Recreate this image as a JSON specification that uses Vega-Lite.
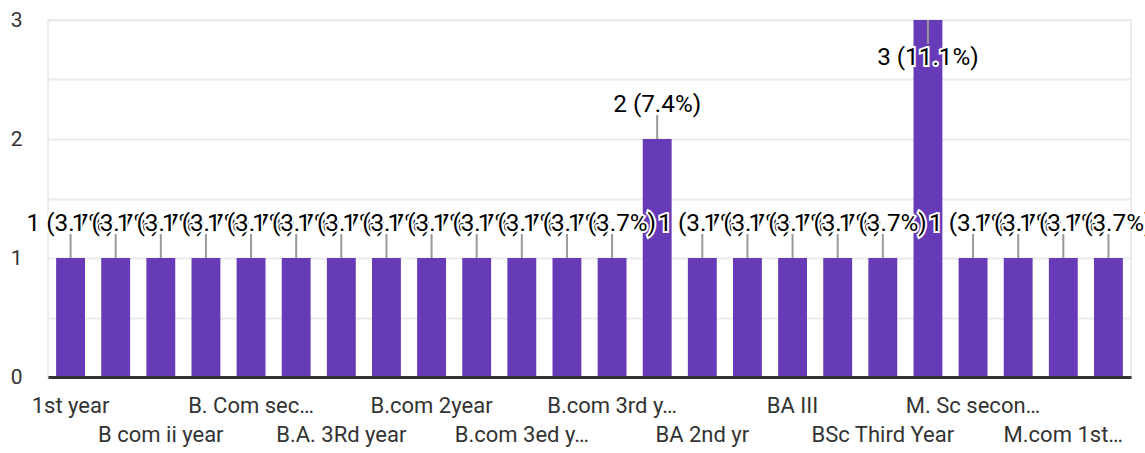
{
  "$schema": "https://vega.github.io/schema/vega-lite/v6.json",
  "width": 1083,
  "height": 357,
  "autosize": {"type": "none"},
  "padding": {"left": 48, "top": 20, "right": 14, "bottom": 76},
  "background": "white",
  "config": {
    "view": {"stroke": "#ebebeb", "strokeWidth": 2},
    "font": "Roboto",
    "style": {
      "halo": {"font": "Roboto", "fontSize": 24.3, "baseline": "alphabetic", "dy": -27, "stroke": "white", "strokeWidth": 4, "fill": "white"},
      "lbl": {"font": "Roboto", "fontSize": 24.3, "baseline": "alphabetic", "dy": -27, "fill": "#222222"}
    }
  },
  "data": {
    "values": [
      {"course": "1st year", "count": 1, "label": "1 (3.7%)"},
      {"course": "2nd year", "count": 1, "label": "1 (3.7%)"},
      {"course": "B com ii year", "count": 1, "label": "1 (3.7%)"},
      {"course": "B. Com 2nd year", "count": 1, "label": "1 (3.7%)"},
      {"course": "B. Com sec…", "count": 1, "label": "1 (3.7%)"},
      {"course": "B.A 2nd year", "count": 1, "label": "1 (3.7%)"},
      {"course": "B.A. 3Rd year", "count": 1, "label": "1 (3.7%)"},
      {"course": "B.com 1st year", "count": 1, "label": "1 (3.7%)"},
      {"course": "B.com 2year", "count": 1, "label": "1 (3.7%)"},
      {"course": "B.com 3 year", "count": 1, "label": "1 (3.7%)"},
      {"course": "B.com 3ed y…", "count": 1, "label": "1 (3.7%)"},
      {"course": "B.com 3rd Year", "count": 1, "label": "1 (3.7%)"},
      {"course": "B.com 3rd y…", "count": 1, "label": "1 (3.7%)"},
      {"course": "B.com final year", "count": 2, "label": "2 (7.4%)"},
      {"course": "BA 2nd yr", "count": 1, "label": "1 (3.7%)"},
      {"course": "BA 3rd year", "count": 1, "label": "1 (3.7%)"},
      {"course": "BA III", "count": 1, "label": "1 (3.7%)"},
      {"course": "BSc 2nd year", "count": 1, "label": "1 (3.7%)"},
      {"course": "BSc Third Year", "count": 1, "label": "1 (3.7%)"},
      {"course": "Final year", "count": 3, "label": "3 (11.1%)"},
      {"course": "M. Sc secon…", "count": 1, "label": "1 (3.7%)"},
      {"course": "M.A. final year", "count": 1, "label": "1 (3.7%)"},
      {"course": "M.com 1st…", "count": 1, "label": "1 (3.7%)"},
      {"course": "Second year", "count": 1, "label": "1 (3.7%)"}
    ]
  },
  "encoding": {
    "x": {
      "field": "course",
      "type": "nominal",
      "sort": null,
      "scale": {"paddingInner": 0.36, "paddingOuter": 0.18},
      "axis": {
        "title": null,
        "labelAngle": 0,
        "ticks": false,
        "grid": false,
        "domainColor": "#333333",
        "domainWidth": 3,
        "zindex": 1,
        "labelFont": "Roboto",
        "labelFontSize": 22,
        "labelColor": "#333333",
        "labelPadding": 18,
        "labelLimit": 400,
        "labelOverlap": false,
        "labelLineHeight": 29.5,
        "labelExpr": "indexof(['1st year','B. Com sec…','B.com 2year','B.com 3rd y…','BA III','M. Sc secon…'], datum.value) >= 0 ? datum.label : (indexof(['B com ii year','B.A. 3Rd year','B.com 3ed y…','BA 2nd yr','BSc Third Year','M.com 1st…'], datum.value) >= 0 ? ['', datum.label] : '')"
      }
    },
    "y": {
      "field": "count",
      "type": "quantitative",
      "scale": {"domain": [0, 3], "nice": false},
      "axis": {
        "title": null,
        "values": [0, 0.5, 1, 1.5, 2, 2.5, 3],
        "labelExpr": "datum.value % 1 == 0 ? format(datum.value, 'd') : ''",
        "grid": true,
        "gridColor": "#ebebeb",
        "gridWidth": 2,
        "domain": false,
        "ticks": false,
        "labelFont": "Roboto",
        "labelFontSize": 21,
        "labelColor": "#333333",
        "labelPadding": 26
      }
    }
  },
  "layer": [
    {"mark": {"type": "bar", "color": "#673ab7"}},
    {
      "transform": [{"filter": "datum.count < 3"}],
      "mark": {"type": "rule", "color": "#999999", "strokeWidth": 2, "y2Offset": -24},
      "encoding": {"y2": {"field": "count"}}
    },
    {
      "transform": [{"filter": "datum.count >= 3"}],
      "mark": {"type": "rule", "color": "#999999", "strokeWidth": 2, "y2Offset": 24},
      "encoding": {"y2": {"field": "count"}}
    },
    {"transform": [{"filter": {"field": "course", "equal": "1st year"}}], "encoding": {"text": {"field": "label"}}, "layer": [{"mark": {"type": "text", "style": "halo"}}, {"mark": {"type": "text", "style": "lbl"}}]},
    {"transform": [{"filter": {"field": "course", "equal": "2nd year"}}], "encoding": {"text": {"field": "label"}}, "layer": [{"mark": {"type": "text", "style": "halo"}}, {"mark": {"type": "text", "style": "lbl"}}]},
    {"transform": [{"filter": {"field": "course", "equal": "B com ii year"}}], "encoding": {"text": {"field": "label"}}, "layer": [{"mark": {"type": "text", "style": "halo"}}, {"mark": {"type": "text", "style": "lbl"}}]},
    {"transform": [{"filter": {"field": "course", "equal": "B. Com 2nd year"}}], "encoding": {"text": {"field": "label"}}, "layer": [{"mark": {"type": "text", "style": "halo"}}, {"mark": {"type": "text", "style": "lbl"}}]},
    {"transform": [{"filter": {"field": "course", "equal": "B. Com sec…"}}], "encoding": {"text": {"field": "label"}}, "layer": [{"mark": {"type": "text", "style": "halo"}}, {"mark": {"type": "text", "style": "lbl"}}]},
    {"transform": [{"filter": {"field": "course", "equal": "B.A 2nd year"}}], "encoding": {"text": {"field": "label"}}, "layer": [{"mark": {"type": "text", "style": "halo"}}, {"mark": {"type": "text", "style": "lbl"}}]},
    {"transform": [{"filter": {"field": "course", "equal": "B.A. 3Rd year"}}], "encoding": {"text": {"field": "label"}}, "layer": [{"mark": {"type": "text", "style": "halo"}}, {"mark": {"type": "text", "style": "lbl"}}]},
    {"transform": [{"filter": {"field": "course", "equal": "B.com 1st year"}}], "encoding": {"text": {"field": "label"}}, "layer": [{"mark": {"type": "text", "style": "halo"}}, {"mark": {"type": "text", "style": "lbl"}}]},
    {"transform": [{"filter": {"field": "course", "equal": "B.com 2year"}}], "encoding": {"text": {"field": "label"}}, "layer": [{"mark": {"type": "text", "style": "halo"}}, {"mark": {"type": "text", "style": "lbl"}}]},
    {"transform": [{"filter": {"field": "course", "equal": "B.com 3 year"}}], "encoding": {"text": {"field": "label"}}, "layer": [{"mark": {"type": "text", "style": "halo"}}, {"mark": {"type": "text", "style": "lbl"}}]},
    {"transform": [{"filter": {"field": "course", "equal": "B.com 3ed y…"}}], "encoding": {"text": {"field": "label"}}, "layer": [{"mark": {"type": "text", "style": "halo"}}, {"mark": {"type": "text", "style": "lbl"}}]},
    {"transform": [{"filter": {"field": "course", "equal": "B.com 3rd Year"}}], "encoding": {"text": {"field": "label"}}, "layer": [{"mark": {"type": "text", "style": "halo"}}, {"mark": {"type": "text", "style": "lbl"}}]},
    {"transform": [{"filter": {"field": "course", "equal": "B.com 3rd y…"}}], "encoding": {"text": {"field": "label"}}, "layer": [{"mark": {"type": "text", "style": "halo"}}, {"mark": {"type": "text", "style": "lbl"}}]},
    {"transform": [{"filter": {"field": "course", "equal": "B.com final year"}}], "encoding": {"text": {"field": "label"}}, "layer": [{"mark": {"type": "text", "style": "halo"}}, {"mark": {"type": "text", "style": "lbl"}}]},
    {"transform": [{"filter": {"field": "course", "equal": "BA 2nd yr"}}], "encoding": {"text": {"field": "label"}}, "layer": [{"mark": {"type": "text", "style": "halo"}}, {"mark": {"type": "text", "style": "lbl"}}]},
    {"transform": [{"filter": {"field": "course", "equal": "BA 3rd year"}}], "encoding": {"text": {"field": "label"}}, "layer": [{"mark": {"type": "text", "style": "halo"}}, {"mark": {"type": "text", "style": "lbl"}}]},
    {"transform": [{"filter": {"field": "course", "equal": "BA III"}}], "encoding": {"text": {"field": "label"}}, "layer": [{"mark": {"type": "text", "style": "halo"}}, {"mark": {"type": "text", "style": "lbl"}}]},
    {"transform": [{"filter": {"field": "course", "equal": "BSc 2nd year"}}], "encoding": {"text": {"field": "label"}}, "layer": [{"mark": {"type": "text", "style": "halo"}}, {"mark": {"type": "text", "style": "lbl"}}]},
    {"transform": [{"filter": {"field": "course", "equal": "BSc Third Year"}}], "encoding": {"text": {"field": "label"}}, "layer": [{"mark": {"type": "text", "style": "halo"}}, {"mark": {"type": "text", "style": "lbl"}}]},
    {"transform": [{"filter": {"field": "course", "equal": "Final year"}}], "encoding": {"text": {"field": "label"}}, "layer": [{"mark": {"type": "text", "style": "halo", "dy": 45}}, {"mark": {"type": "text", "style": "lbl", "dy": 45}}]},
    {"transform": [{"filter": {"field": "course", "equal": "M. Sc secon…"}}], "encoding": {"text": {"field": "label"}}, "layer": [{"mark": {"type": "text", "style": "halo"}}, {"mark": {"type": "text", "style": "lbl"}}]},
    {"transform": [{"filter": {"field": "course", "equal": "M.A. final year"}}], "encoding": {"text": {"field": "label"}}, "layer": [{"mark": {"type": "text", "style": "halo"}}, {"mark": {"type": "text", "style": "lbl"}}]},
    {"transform": [{"filter": {"field": "course", "equal": "M.com 1st…"}}], "encoding": {"text": {"field": "label"}}, "layer": [{"mark": {"type": "text", "style": "halo"}}, {"mark": {"type": "text", "style": "lbl"}}]},
    {"transform": [{"filter": {"field": "course", "equal": "Second year"}}], "encoding": {"text": {"field": "label"}}, "layer": [{"mark": {"type": "text", "style": "halo"}}, {"mark": {"type": "text", "style": "lbl"}}]}
  ]
}
